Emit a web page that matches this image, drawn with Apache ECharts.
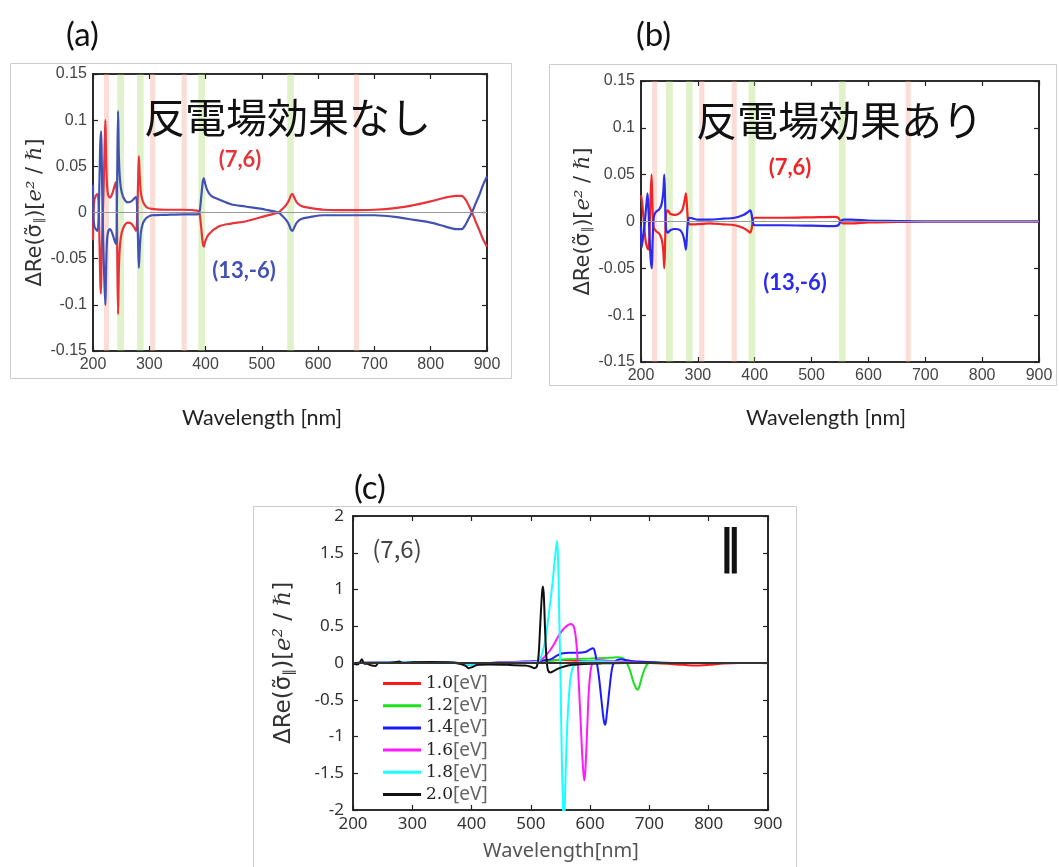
<!DOCTYPE html>
<html>
<head>
<meta charset="utf-8">
<script src="https://cdn.jsdelivr.net/npm/echarts@6.0.0/dist/echarts.min.js"></script>
<style>
html, body { margin: 0; padding: 0; background: #fff; }
#chart { width: 1059px; height: 867px; }
</style>
</head>
<body>
<div id="chart"></div>
<script>
// ---- values (wavelength nm, value) ----
const pinkBandsA = [224, 306, 362, 668]
const greenBandsA = [249, 284, 393, 551]
const pinkBandsB = [224, 307, 364, 670]
const greenBandsB = [250, 285, 395, 554]

// (a) without depolarization
const redA = [[200,-0.03],[201,0.0],[202.5,0.014],[205,0.018],[208,0.02],[210,0.01],[211.5,-0.03],[213,-0.075],[214,-0.088],[215,-0.06],[216.5,-0.02],[218,0.01],[219.5,0.04],[221,0.08],[222,0.1],[223,0.07],[224.5,0.035],[226.5,0.02],[230,0.016],[234,0.02],[238,0.028],[240.5,0.033],[242,0.02],[243,-0.04],[244.5,-0.11],[246,-0.06],[248,-0.035],[251,-0.022],[256,-0.014],[262,-0.011],[268,-0.012],[273,-0.016],[276.5,-0.02],[278.5,-0.005],[280,0.03],[281.5,0.061],[283,0.04],[285,0.022],[288,0.013],[292,0.008],[297,0.005],[305,0.004],[330,0.003],[360,0.003],[385,0.002],[389,0.0],[392,-0.015],[395,-0.033],[397,-0.037],[399,-0.032],[405,-0.024],[424,-0.015],[445,-0.012],[471,-0.0097],[507,-0.0036],[529,0.0],[537,0.004],[543,0.008],[548,0.013],[552,0.019],[554.5,0.02],[557,0.017],[562,0.011],[570,0.007],[585,0.005],[610,0.003],[650,0.0025],[700,0.003],[740,0.005],[770,0.008],[800,0.012],[825,0.016],[845,0.018],[855,0.018],[862,0.014],[868,0.007],[874,-0.001],[880,-0.01],[887,-0.02],[893,-0.029],[900,-0.037]]
const blueA = [[200,0.03],[200.8,-0.005],[202.5,-0.015],[205,-0.018],[208,-0.02],[210,-0.005],[211.5,0.035],[213,0.075],[214.5,0.088],[215.5,0.06],[217,0.0],[218.5,-0.04],[220.5,-0.08],[222,-0.1],[223,-0.07],[224.5,-0.035],[226.5,-0.022],[230,-0.018],[234,-0.022],[238,-0.03],[240.5,-0.034],[242,-0.02],[243,0.04],[244.5,0.11],[246,0.06],[248,0.035],[251,0.022],[256,0.014],[262,0.011],[268,0.012],[273,0.015],[276.5,0.017],[278.5,0.003],[280,-0.03],[281.5,-0.06],[283,-0.04],[285,-0.022],[288,-0.013],[292,-0.008],[297,-0.005],[305,-0.003],[330,-0.0025],[360,-0.002],[385,-0.002],[389,0.0],[392,0.015],[395,0.033],[397,0.037],[399,0.032],[403,0.024],[410,0.018],[424,0.014],[445,0.009],[471,0.0065],[507,0.003],[529,0.0],[537,-0.004],[543,-0.008],[548,-0.013],[552,-0.019],[554.5,-0.02],[557,-0.017],[562,-0.011],[570,-0.007],[585,-0.005],[610,-0.003],[650,-0.003],[700,-0.003],[740,-0.005],[770,-0.008],[800,-0.011],[825,-0.015],[845,-0.018],[855,-0.018],[862,-0.013],[868,-0.006],[874,0.001],[880,0.01],[887,0.02],[893,0.03],[900,0.039]]

// (b) with depolarization
const redB = [[200,0.028],[202,0.02],[205,0.0],[208,-0.02],[211,-0.028],[213,-0.03],[214.5,-0.02],[216.5,0.02],[218.5,0.05],[220,0.02],[222,-0.006],[226,-0.01],[232,-0.013],[236,-0.018],[239,-0.03],[241,-0.05],[242.5,-0.02],[244,0.008],[247,0.012],[252,0.008],[260,0.007],[268,0.009],[273,0.013],[276.5,0.022],[279,0.03],[281,0.015],[283,0.0],[286,-0.003],[295,-0.003],[320,-0.002],[345,-0.003],[365,-0.004],[380,-0.007],[388,-0.01],[392,-0.012],[394.5,-0.008],[397,0.002],[400,0.004],[450,0.004],[500,0.0045],[540,0.005],[547,0.004],[551,0.0],[555,-0.002],[570,-0.002],[600,-0.001],[650,-0.0005],[700,0.0],[900,0.0]]
const blueB = [[200,-0.005],[201,-0.028],[203,-0.02],[206,-0.005],[209,0.015],[211.5,0.03],[213,0.015],[215,-0.015],[217,-0.04],[219,-0.05],[220.5,-0.02],[222.5,0.005],[226,0.01],[232,0.013],[236,0.018],[239,0.03],[241,0.05],[242.5,0.02],[244,-0.008],[247,-0.012],[252,-0.009],[260,-0.008],[268,-0.009],[273,-0.013],[276.5,-0.021],[279,-0.03],[281,-0.012],[283,0.002],[286,0.004],[292,0.003],[300,0.002],[320,0.002],[345,0.003],[365,0.004],[380,0.007],[388,0.01],[392,0.012],[394.5,0.008],[397,-0.002],[400,-0.004],[450,-0.004],[500,-0.0045],[540,-0.005],[547,-0.004],[551,0.0],[556,0.002],[570,0.002],[600,0.001],[650,0.0005],[700,0.0],[900,0.0]]

// (c) (7,6), parallel, by photon energy
const e10 = [[200,0],[250,0.005],[300,0.01],[350,0.01],[390,-0.01],[400,-0.02],[420,-0.005],[460,0.005],[500,0.015],[520,0.03],[550,0.04],[580,0.03],[620,0.02],[660,0.01],[700,0.0],[730,-0.01],[755,-0.025],[775,-0.035],[800,-0.025],[825,-0.008],[850,0],[900,0]]
const e12 = [[200,0],[300,0.01],[350,0.01],[390,-0.01],[400,-0.025],[420,-0.005],[460,0.005],[500,0.015],[530,0.03],[560,0.05],[600,0.06],[630,0.07],[645,0.077],[652,0.075],[658,0.05],[663,-0.02],[668,-0.12],[673,-0.26],[678,-0.35],[680,-0.363],[683,-0.32],[687,-0.2],[692,-0.08],[697,-0.01],[703,0.01],[720,0.005],[760,0],[900,0]]
const e14 = [[200,0],[300,0.01],[350,0.015],[390,-0.01],[400,-0.03],[420,-0.005],[460,0.01],[500,0.025],[520,0.035],[533,0.05],[544,0.1],[552,0.13],[565,0.14],[580,0.14],[592,0.15],[600,0.185],[604,0.2],[607,0.18],[611,0.02],[615,-0.2],[619,-0.5],[623,-0.78],[625.5,-0.84],[628,-0.7],[632,-0.4],[636,-0.12],[640,0.01],[645,0.04],[652,0.05],[660,0.04],[680,0.02],[720,0.005],[760,0],[900,0]]
const e16 = [[200,0],[300,0.01],[350,0.015],[390,-0.01],[400,-0.03],[420,-0.005],[460,0.01],[500,0.02],[512,0.03],[520,0.06],[527,0.12],[533,0.18],[540,0.27],[549,0.4],[557,0.48],[563,0.52],[568,0.53],[572,0.5],[575,0.4],[578,0.15],[581,-0.3],[584,-0.8],[587,-1.3],[590,-1.6],[592,-1.45],[595,-0.9],[598,-0.35],[602,-0.05],[607,0.03],[615,0.04],[630,0.03],[660,0.01],[700,0],[900,0]]
const e18 = [[200,0],[300,0.01],[350,0.01],[390,-0.01],[400,-0.03],[420,-0.005],[460,0.005],[500,0.01],[512,0.02],[518,0.1],[524,0.3],[530,0.65],[536,1.05],[541,1.45],[544,1.66],[546,1.4],[548,0.6],[550,-0.2],[552,-1.2],[554,-1.9],[555.5,-2.3],[557,-2.0],[559,-1.4],[562,-0.75],[566,-0.27],[570,-0.08],[575,-0.02],[585,0.02],[620,0.02],[660,0.005],[700,0],[900,0]]
const e20 = [[200,0],[207,-0.02],[211,0.0],[215,0.05],[219,-0.01],[224,-0.01],[230,-0.03],[238,-0.04],[243,0.0],[255,0.0],[270,0.01],[278,0.02],[284,0.0],[300,0.01],[330,0.012],[360,0.01],[380,-0.01],[390,-0.04],[395,-0.07],[400,-0.06],[410,-0.025],[430,-0.02],[460,-0.025],[490,-0.035],[500,-0.05],[506,-0.07],[510,-0.05],[513,0.1],[516,0.55],[519,0.97],[520.5,1.04],[522,0.9],[524,0.45],[526.5,0.05],[529,-0.1],[533,-0.13],[538,-0.11],[545,-0.08],[555,-0.05],[570,-0.025],[590,-0.012],[620,-0.005],[660,0],[900,0]]

const energies = ['1.0', '1.2', '1.4', '1.6', '1.8', '2.0']
const energyData = [e10, e12, e14, e16, e18, e20]
const energyColors = ['#ff1a1a', '#1ee01e', '#1a1aff', '#ff1aff', '#1affff', '#111111']

// ---- styling ----
const PINK = 'rgba(245,160,140,0.36)'
const GREEN = 'rgba(160,215,90,0.32)'
const PINK_W = 9
const GREEN_W = 12

const bandAreas = (pink, green) =>
  pink.map(c => [{ xAxis: c - PINK_W / 2, itemStyle: { color: PINK } }, { xAxis: c + PINK_W / 2 }])
    .concat(green.map(c => [{ xAxis: c - GREEN_W / 2, itemStyle: { color: GREEN } }, { xAxis: c + GREEN_W / 2 }]))

const frame = { show: true, onZero: false, lineStyle: { color: '#222', width: 1.6 } }
const tick = { show: true, inside: true, length: 5, lineStyle: { color: '#222', width: 1.2 } }

const yName = 'ΔRe(σ̃{s|∥})[{i|e²}{n| / }{i|ℏ}]'
const yNameStyle = size => ({
  fontSize: size, fontFamily: 'DejaVu Sans', color: '#333',
  rich: {
    s: { fontSize: size * 0.6, fontFamily: 'DejaVu Sans', color: '#333', padding: [size * 0.45, 0, 0, 0] },
    i: { fontSize: size, fontFamily: 'DejaVu Serif', fontStyle: 'italic', color: '#333' },
    n: { fontSize: size, fontFamily: 'DejaVu Sans', color: '#333' }
  }
})

function xAxes (gi, labelFont) {
  const base = { type: 'value', gridIndex: gi, min: 200, max: 900, interval: 100, axisLine: frame, axisTick: tick, splitLine: { show: false } }
  return [
    Object.assign({}, base, { position: 'bottom', axisLabel: labelFont }),
    Object.assign({}, base, { position: 'top', axisLabel: { show: false } })
  ]
}
function yAxes (gi, min, max, step, labelFont, nameSize, nameGap) {
  const base = { type: 'value', gridIndex: gi, min: min, max: max, interval: step, axisLine: frame, axisTick: tick, splitLine: { show: false } }
  return [
    Object.assign({}, base, {
      position: 'left', axisLabel: labelFont,
      name: yName, nameLocation: 'middle', nameGap: nameGap, nameTextStyle: yNameStyle(nameSize)
    }),
    Object.assign({}, base, { position: 'right', axisLabel: { show: false } })
  ]
}

const smallLabel = { fontSize: 16, fontFamily: 'Liberation Sans', color: '#444', margin: 6 }
const cLabel = { fontSize: 17, fontFamily: 'Noto Sans', color: '#333', margin: 6 }
const cYLabel = Object.assign({}, cLabel, { margin: 9 })

const zeroLine = (color, width) => ({
  silent: true, symbol: 'none', label: { show: false },
  lineStyle: { color: color, width: width, type: 'solid' },
  data: [{ yAxis: 0 }]
})

function curve (name, xi, data, color, width, z) {
  return {
    name: name, type: 'line', xAxisIndex: xi, yAxisIndex: xi, data: data,
    showSymbol: false, smooth: 0.3, z: z || 3,
    lineStyle: { color: color, width: width }, itemStyle: { color: color }
  }
}

const series = [
  Object.assign(curve('zeroA', 0, [], '#999', 1, 1), { markLine: zeroLine('#999', 1.2) }),
  curve('(7,6) a', 0, redA, '#e8333a', 2.2),
  curve('(13,-6) a', 0, blueA, '#4352b2', 2.2),
  Object.assign(curve('bandsA', 0, [], '#000', 0, 6), { markArea: { silent: true, data: bandAreas(pinkBandsA, greenBandsA) } }),

  Object.assign(curve('zeroB', 2, [], '#999', 1, 1), { markLine: zeroLine('#999', 1.2) }),
  curve('(7,6) b', 2, redB, '#f02424', 2.2),
  curve('(13,-6) b', 2, blueB, '#2a2af0', 2.2),
  Object.assign(curve('bandsB', 2, [], '#000', 0, 6), { markArea: { silent: true, data: bandAreas(pinkBandsB, greenBandsB) } })
]
energies.forEach((e, i) => series.push(curve(e, 4, energyData[i], energyColors[i], 2)))
series.push(Object.assign(curve('zeroC', 4, [], '#333', 1, 8), { markLine: zeroLine('#333', 1.8) }))

const txt = (x, y, text, size, fill, opts) => ({
  type: 'text', x: x, y: y, silent: true, z: 20,
  style: Object.assign({ text: text, fontSize: size, fontFamily: 'Lato', fill: fill, align: 'left', verticalAlign: 'middle' }, opts || {})
})
const box = (x, y, w, h) => ({
  type: 'rect', silent: true, z: 0,
  shape: { x: x, y: y, width: w, height: h },
  style: { fill: 'none', stroke: '#cdcdcd', lineWidth: 1 }
})
const gridBox = { show: true, borderColor: '#222', borderWidth: 1.6, backgroundColor: 'transparent' }

const chart = echarts.init(document.getElementById('chart'))
chart.setOption({
  animation: false,
  backgroundColor: '#fff',
  grid: [
    Object.assign({ left: 93, top: 74, width: 394, height: 277 }, gridBox),
    Object.assign({ left: 641, top: 81, width: 398, height: 281 }, gridBox),
    Object.assign({ left: 353, top: 516, width: 415, height: 294 }, gridBox)
  ],
  xAxis: xAxes(0, smallLabel).concat(xAxes(1, smallLabel)).concat(xAxes(2, cLabel)),
  yAxis: yAxes(0, -0.15, 0.15, 0.05, smallLabel, 21, 36)
    .concat(yAxes(1, -0.15, 0.15, 0.05, smallLabel, 21, 44))
    .concat(yAxes(2, -2, 2, 0.5, cYLabel, 23, 57)),
  legend: {
    data: energies, orient: 'vertical', left: 378, top: 669,
    itemWidth: 38, itemHeight: 3, itemGap: 3.2, icon: 'rect',
    formatter: n => '{n|' + n + '}{u|[eV]}',
    textStyle: {
      rich: {
        n: { fontSize: 17, fontFamily: 'DejaVu Serif', color: '#222', lineHeight: 18 },
        u: { fontSize: 19, fontFamily: 'Noto Sans', color: '#666', lineHeight: 18 }
      }
    }
  },
  graphic: [
    box(10.5, 63.5, 501, 315),
    box(549.5, 64.5, 507, 321),
    box(253.5, 506.5, 543, 362),
    txt(66, 35, '(a)', 33, '#111'),
    txt(636, 35, '(b)', 33, '#111'),
    txt(354, 488, '(c)', 33, '#111'),
    txt(262, 418, 'Wavelength [nm]', 21.5, '#222', { align: 'center' }),
    txt(826, 418, 'Wavelength [nm]', 21.5, '#222', { align: 'center' }),
    txt(561, 851, 'Wavelength[nm]', 20, '#555', { align: 'center', fontFamily: 'Noto Sans' }),
    txt(144, 117, '反電場効果なし', 41, '#111', { fontFamily: 'Noto Sans CJK JP' }),
    txt(696, 120, '反電場効果あり', 41, '#111', { fontFamily: 'Noto Sans CJK JP' }),
    txt(240, 160, '(7,6)', 22, '#e8333a', { align: 'center', fontWeight: 'bold' }),
    txt(244, 271, '(13,-6)', 22, '#4352b2', { align: 'center', fontWeight: 'bold' }),
    txt(790, 168, '(7,6)', 22, '#f02424', { align: 'center', fontWeight: 'bold' }),
    txt(795, 283, '(13,-6)', 22, '#2a2af0', { align: 'center', fontWeight: 'bold' }),
    txt(397, 549, '(7,6)', 24, '#444', { align: 'center', fontFamily: 'Noto Sans CJK JP' }),
    txt(730, 550, '‖', 46, '#111', { align: 'center', fontFamily: 'DejaVu Sans', fontWeight: 'bold' })
  ],
  series: series
})
</script>
</body>
</html>
